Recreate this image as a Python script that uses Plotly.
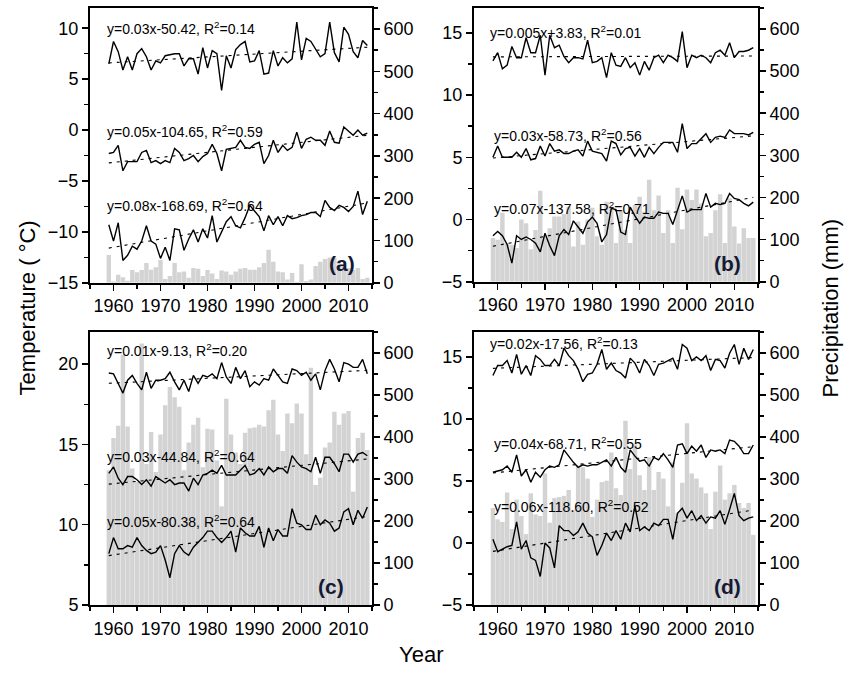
import numpy as np
import plotly.graph_objects as go

years = list(range(1959, 2015))

# ---------------- Panel (a) ----------------
temp_a_high = [6.5, 8.7, 7.7, 5.9, 7.2, 5.9, 7.5, 8.0, 7.2, 5.9, 6.8, 6.6, 7.3, 7.4, 7.5, 7.5, 6.3, 7.0, 7.0, 5.5,
               8.1, 6.1, 7.8, 7.5, 3.9, 7.3, 6.1, 7.9, 8.4, 8.7, 6.7, 6.8, 7.8, 5.5, 5.6, 7.8, 6.3, 7.1, 6.6, 7.0,
               10.6, 6.9, 9.0, 8.7, 7.9, 7.2, 7.5, 10.6, 7.6, 6.7, 10.1, 9.4, 7.7, 7.1, 8.8, 8.3]
temp_a_mid = [-2.3, -2.2, -1.5, -4.0, -3.1, -3.1, -3.1, -2.2, -2.0, -3.2, -3.0, -3.3, -3.0, -3.2, -1.8, -2.2, -3.0, -2.8, -2.5, -3.1,
              -2.6, -2.3, -1.4, -2.3, -4.0, -1.9, -1.8, -1.7, -1.0, -1.7, -1.8, -1.4, -1.2, -3.3, -2.5, -1.0, -2.2, -1.5, -2.0, -1.7,
              -0.2, -1.8, -0.9, -0.7, -1.0, -1.0, -1.5, -0.1, -1.2, -1.3, 0.3, -0.1, -0.5, 0.0, -0.5, -0.3]
temp_a_low = [-9.3, -10.9, -9.1, -12.8, -12.3, -11.4, -11.7, -10.9, -9.4, -10.9, -11.2, -12.6, -11.5, -12.8, -9.7, -9.8, -11.8, -10.7, -9.8, -11.0,
              -9.7, -10.6, -8.4, -11.0, -10.0, -9.0, -8.5, -9.4, -9.6, -8.6, -7.4, -7.9, -8.5, -9.9, -8.4, -9.3, -8.5, -9.4, -8.4, -8.7,
              -8.6, -8.4, -8.3, -8.1, -8.1, -8.5, -6.9, -7.6, -7.9, -7.4, -7.6, -8.0, -7.5, -6.0, -8.3, -7.0]
prec_a = [66, 3, 19, 13, 5, 30, 25, 30, 47, 31, 37, 54, 9, 16, 47, 25, 27, 12, 35, 33,
          16, 30, 22, 9, 29, 27, 19, 27, 33, 35, 31, 31, 37, 47, 78, 50, 27, 25, 8, 23,
          2, 44, 4, 8, 40, 50, 56, 60, 59, 43, 41, 35, 30, 35, 9, 12]

# ---------------- Panel (b) ----------------
temp_b_high = [12.75, 13.4, 12.1, 12.4, 13.9, 13.0, 13.0, 14.6, 13.4, 13.4, 14.8, 11.6, 14.8, 13.8, 14.0, 13.1, 12.6, 13.0, 13.0, 12.9,
               14.4, 12.6, 12.7, 13.0, 11.4, 13.4, 12.4, 12.3, 13.0, 12.2, 12.6, 11.6, 12.7, 12.0, 13.0, 13.2, 12.6, 13.2, 13.0, 12.7,
               15.1, 12.2, 13.2, 13.0, 13.2, 13.0, 12.6, 13.4, 13.6, 13.2, 14.2, 13.0, 13.5, 13.5, 13.6, 13.8]
temp_b_mid = [5.0, 5.9, 5.0, 5.0, 5.0, 5.4, 5.0, 5.7, 4.8, 4.9, 5.9, 5.1, 6.1, 5.5, 5.6, 5.3, 5.3, 5.5, 5.6, 5.1,
              6.3, 5.5, 5.4, 5.3, 4.7, 6.3, 6.1, 5.2, 5.7, 5.8, 5.1, 5.7, 5.0, 5.8, 5.3, 5.8, 6.2, 6.2, 6.2, 5.4,
              7.7, 5.7, 6.1, 6.1, 6.5, 6.9, 6.2, 6.6, 6.7, 6.6, 7.2, 6.9, 6.9, 6.9, 6.8, 7.0]
temp_b_low = [-1.3, -0.95, -1.3, -2.0, -3.5, -1.3, -1.6, -1.4, -1.6, -1.9, -2.6, -1.1, -2.1, -2.9, -1.3, -0.8, -1.2, -0.1, -0.6, -1.1,
              -0.2, 0.2, -0.3, -1.8, -1.2, 0.9, 0.8, -1.0, -1.2, 1.0, 0.3, -0.3, 0.2, 0.1, 0.1, 0.6, 0.5, 0.5, -0.4, 0.8,
              1.9, 0.6, 0.8, 0.8, 0.8, 2.1, 1.0, 1.3, 1.2, 1.3, 2.1, 1.7, 1.6, 1.3, 1.1, 1.4]
prec_b = [104, 100, 164, 92, 88, 80, 148, 139, 77, 123, 216, 108, 127, 155, 155, 161, 178, 84, 143, 88,
          148, 176, 108, 88, 190, 178, 92, 170, 123, 92, 182, 202, 166, 242, 170, 205, 116, 170, 92, 223,
          125, 219, 194, 219, 186, 108, 116, 170, 208, 92, 198, 131, 91, 127, 104, 104]

# ---------------- Panel (c) ----------------
temp_c_high = [19.45, 19.4, 18.8, 18.2, 19.0, 19.3, 18.8, 18.4, 19.5, 18.5, 19.0, 19.0, 19.1, 19.5, 18.9, 18.4, 19.0, 18.3, 19.3, 18.8,
               19.3, 19.2, 19.4, 19.1, 20.1, 19.2, 18.8, 19.8, 19.1, 19.6, 18.6, 18.9, 18.7, 19.1, 19.0, 19.7, 19.3, 18.9, 18.8, 19.7,
               19.6, 19.3, 19.5, 19.0, 19.4, 18.4, 19.6, 20.3, 19.7, 18.9, 20.1, 20.0, 19.8, 19.8, 20.3, 19.4]
temp_c_mid = [13.2, 13.6, 12.9, 12.5, 13.0, 13.0, 12.8, 12.5, 12.8, 12.4, 13.0, 12.8, 12.6, 12.8, 12.5, 12.6, 12.6, 12.1, 12.9, 12.5,
              13.1, 13.2, 13.4, 13.2, 13.7, 13.1, 13.1, 13.1, 13.4, 13.7, 13.1, 13.2, 13.5, 13.1, 13.6, 13.3, 13.5, 13.5, 13.2, 14.3,
              13.9, 13.6, 13.5, 13.3, 14.2, 13.2, 14.2, 14.2, 13.8, 13.3, 14.4, 14.4, 13.9, 14.4, 14.5, 14.3]
temp_c_low = [8.2, 9.2, 8.5, 8.5, 8.7, 8.6, 9.2, 8.7, 8.4, 8.2, 8.3, 8.7, 7.8, 6.7, 8.2, 8.7, 8.3, 8.1, 8.6, 8.9,
              9.2, 9.6, 9.6, 9.2, 8.9, 9.2, 9.6, 8.3, 9.8, 9.5, 9.3, 9.3, 9.9, 8.6, 9.8, 9.0, 9.7, 9.3, 9.3, 11.0,
              10.1, 10.0, 9.7, 9.7, 10.6, 10.0, 10.3, 10.1, 9.6, 9.8, 10.8, 11.0, 10.0, 10.9, 10.4, 11.1]
prec_c = [321, 398, 427, 596, 425, 325, 293, 623, 336, 412, 317, 406, 476, 519, 495, 472, 321, 387, 429, 446,
          328, 420, 418, 344, 235, 491, 406, 363, 336, 410, 421, 423, 429, 425, 464, 489, 406, 367, 456, 433,
          480, 456, 359, 565, 286, 303, 375, 387, 460, 429, 456, 462, 270, 398, 410, 369]

# ---------------- Panel (d) ----------------
temp_d_high = [13.5, 14.3, 14.3, 14.7, 13.7, 15.2, 13.6, 14.3, 13.5, 15.1, 14.8, 14.3, 14.3, 14.8, 14.3, 15.7, 15.1, 14.7, 14.0, 13.0,
               13.6, 13.7, 14.4, 15.6, 14.0, 14.5, 13.9, 13.7, 13.3, 14.9, 14.5, 13.7, 14.8, 14.3, 13.5, 14.4, 14.5, 14.7, 14.9, 14.0,
               16.0, 15.7, 14.7, 15.0, 14.7, 15.1, 13.9, 14.8, 14.7, 14.1, 15.3, 16.0, 14.4, 15.7, 14.8, 15.6]
temp_d_mid = [5.7, 5.8, 5.9, 6.2, 5.7, 7.1, 5.4, 5.9, 4.9, 5.7, 5.3, 5.9, 6.2, 6.1, 6.3, 7.5, 7.0, 6.5, 6.1, 6.3,
              6.2, 6.3, 6.3, 6.5, 6.7, 6.2, 6.9, 6.1, 5.7, 7.5, 7.0, 6.6, 6.7, 6.2, 6.9, 6.7, 7.2, 6.7, 6.1, 7.9,
              8.0, 7.2, 7.8, 7.4, 7.9, 6.9, 7.5, 7.4, 7.5, 7.2, 8.3, 8.2, 7.8, 7.2, 7.2, 7.9]
temp_d_low = [0.3, -0.7, -0.5, -0.3, -0.2, 1.7, -0.5, 0.2, -1.2, -1.4, -2.7, 0.0, -0.4, -2.0, 1.4, 1.0, 1.0, 0.6, 0.9, 1.6,
              0.8, 0.5, -1.0, -0.2, 0.8, 0.2, 1.0, 0.3, 1.6, 0.9, 3.0, 1.0, 1.3, 1.0, 1.6, 1.4, 1.9, 1.9, 0.3, 2.4,
              2.8, 2.0, 2.6, 1.8, 2.2, 1.6, 2.1, 2.0, 2.6, 1.5, 2.7, 4.0, 2.2, 1.8, 2.0, 2.1]
prec_d = [231, 204, 198, 268, 181, 251, 212, 169, 266, 216, 212, 313, 196, 255, 257, 260, 274, 227, 332, 328,
          301, 210, 251, 293, 296, 363, 278, 262, 439, 324, 383, 309, 274, 352, 274, 317, 301, 235, 340, 220,
          291, 433, 313, 301, 280, 266, 181, 270, 332, 251, 266, 286, 243, 231, 243, 167]

equations = {
    "a": ["y=0.03x-50.42, R<sup>2</sup>=0.14", "y=0.05x-104.65, R<sup>2</sup>=0.59", "y=0.08x-168.69, R<sup>2</sup>=0.64"],
    "b": ["y=0.005x+3.83, R<sup>2</sup>=0.01", "y=0.03x-58.73, R<sup>2</sup>=0.56", "y=0.07x-137.58, R<sup>2</sup>=0.71"],
    "c": ["y=0.01x-9.13, R<sup>2</sup>=0.20", "y=0.03x-44.84, R<sup>2</sup>=0.64", "y=0.05x-80.38, R<sup>2</sup>=0.64"],
    "d": ["y=0.02x-17.56, R<sup>2</sup>=0.13", "y=0.04x-68.71, R<sup>2</sup>=0.55", "y=0.06x-118.60, R<sup>2</sup>=0.52"],
}

W, H = 847, 684
def px(x):
    return x / W
def py(y):
    return 1 - y / H

FONT = "Liberation Sans, Arial, sans-serif"

panels = [
    dict(key="a", temps=[temp_a_high, temp_a_mid, temp_a_low], prec=prec_a, x=(90, 372), y=(8, 287), trange=[-15, 12],
         eq_pos=[(105, 28), (105, 133), (105, 208)], lab=(342, 267)),
    dict(key="b", temps=[temp_b_high, temp_b_mid, temp_b_low], prec=prec_b, x=(474, 758), y=(8, 286), trange=[-5, 17],
         eq_pos=[(488, 32), (492, 137), (492, 211)], lab=(727, 267)),
    dict(key="c", temps=[temp_c_high, temp_c_mid, temp_c_low], prec=prec_c, x=(90, 372), y=(337, 614), trange=[5, 22],
         eq_pos=[(105, 355), (105, 463), (105, 529)], lab=(331, 595)),
    dict(key="d", temps=[temp_d_high, temp_d_mid, temp_d_low], prec=prec_d, x=(474, 758), y=(337, 614), trange=[-5, 17],
         eq_pos=[(488, 348), (492, 450), (492, 513)], lab=(727, 595)),
]

fig = go.Figure()
layout = dict(
    width=W, height=H, margin=dict(l=0, r=0, t=0, b=0),
    paper_bgcolor="white", plot_bgcolor="rgba(0,0,0,0)",
    showlegend=False, bargap=0.06,
    font=dict(family=FONT, size=18, color="black"),
)
annotations = []
yrs = np.array(years, dtype=float)

for k, p in enumerate(panels):
    xi = k + 1
    yp = 2 * k + 1
    yt = 2 * k + 2
    xname = "x" if xi == 1 else f"x{xi}"
    ypname = "y" if yp == 1 else f"y{yp}"
    ytname = f"y{yt}"

    fig.add_trace(go.Bar(x=years, y=p["prec"], xaxis=xname, yaxis=ypname,
                         marker=dict(color="#d3d3d3", line=dict(width=0))))
    for series in p["temps"]:
        vals = np.array(series, dtype=float)
        fig.add_trace(go.Scatter(x=years, y=series, xaxis=xname, yaxis=ytname, mode="lines",
                                 line=dict(color="black", width=1.4)))
        slope, icpt = np.polyfit(yrs, vals, 1)
        fit = slope * yrs + icpt
        fig.add_trace(go.Scatter(x=years, y=fit.tolist(), xaxis=xname, yaxis=ytname, mode="lines",
                                 line=dict(color="black", width=1.1, dash="3px,5px")))

    dom_x = [px(p["x"][0]), px(p["x"][1])]
    dom_y = [py(p["y"][1]), py(p["y"][0])]
    axis_common = dict(showline=True, linecolor="black", linewidth=2, ticks="outside", ticklen=6,
                       tickwidth=1.5, tickcolor="black", showgrid=False, zeroline=False,
                       tickfont=dict(family=FONT, size=18, color="black"))
    layout["xaxis" if xi == 1 else f"xaxis{xi}"] = dict(
        domain=dom_x, anchor=ypname, range=[1955, 2015], tick0=1960, dtick=10, mirror=True,
        minor=dict(dtick=5, tick0=1955, ticks="outside", ticklen=4, tickwidth=1.5, tickcolor="black"),
        **axis_common)
    layout["yaxis" if yp == 1 else f"yaxis{yp}"] = dict(
        domain=dom_y, anchor=xname, side="right", range=[0, 650], dtick=100, tick0=0,
        minor=dict(dtick=50, ticks="outside", ticklen=4, tickwidth=1.5, tickcolor="black"),
        **axis_common)
    layout[f"yaxis{yt}"] = dict(
        domain=dom_y, anchor=xname, overlaying=ypname, side="left", range=p["trange"], dtick=5, tick0=0,
        minor=dict(dtick=2.5, ticks="outside", ticklen=4, tickwidth=1.5, tickcolor="black"),
        **axis_common)

    for txt, (ex, ey) in zip(equations[p["key"]], p["eq_pos"]):
        annotations.append(dict(text=txt, x=px(ex), y=py(ey), xref="paper", yref="paper",
                                xanchor="left", yanchor="middle", showarrow=False,
                                font=dict(family=FONT, size=14, color="black")))
    annotations.append(dict(text=f"<b>({p['key']})</b>", x=px(p["lab"][0]), y=py(p["lab"][1]),
                            xref="paper", yref="paper", xanchor="center", yanchor="middle",
                            showarrow=False, font=dict(family=FONT, size=21, color="#151a35")))

annotations.append(dict(text="Temperature ( °C)", x=px(27), y=py(313), xref="paper", yref="paper",
                        textangle=-90, showarrow=False, xanchor="center", yanchor="middle",
                        font=dict(family=FONT, size=22, color="black")))
annotations.append(dict(text="Precipitation (mm)", x=px(830), y=py(313), xref="paper", yref="paper",
                        textangle=-90, showarrow=False, xanchor="center", yanchor="middle",
                        font=dict(family=FONT, size=22, color="black")))
annotations.append(dict(text="Year", x=px(421), y=py(664), xref="paper", yref="paper",
                        showarrow=False, xanchor="center", yanchor="middle",
                        font=dict(family=FONT, size=22, color="black")))
layout["annotations"] = annotations
fig.update_layout(**layout)
fig.write_html("out.html",
               config={"displayModeBar": False, "staticPlot": True},
               post_script="document.body.style.margin='0px';document.body.style.overflow='hidden';")
